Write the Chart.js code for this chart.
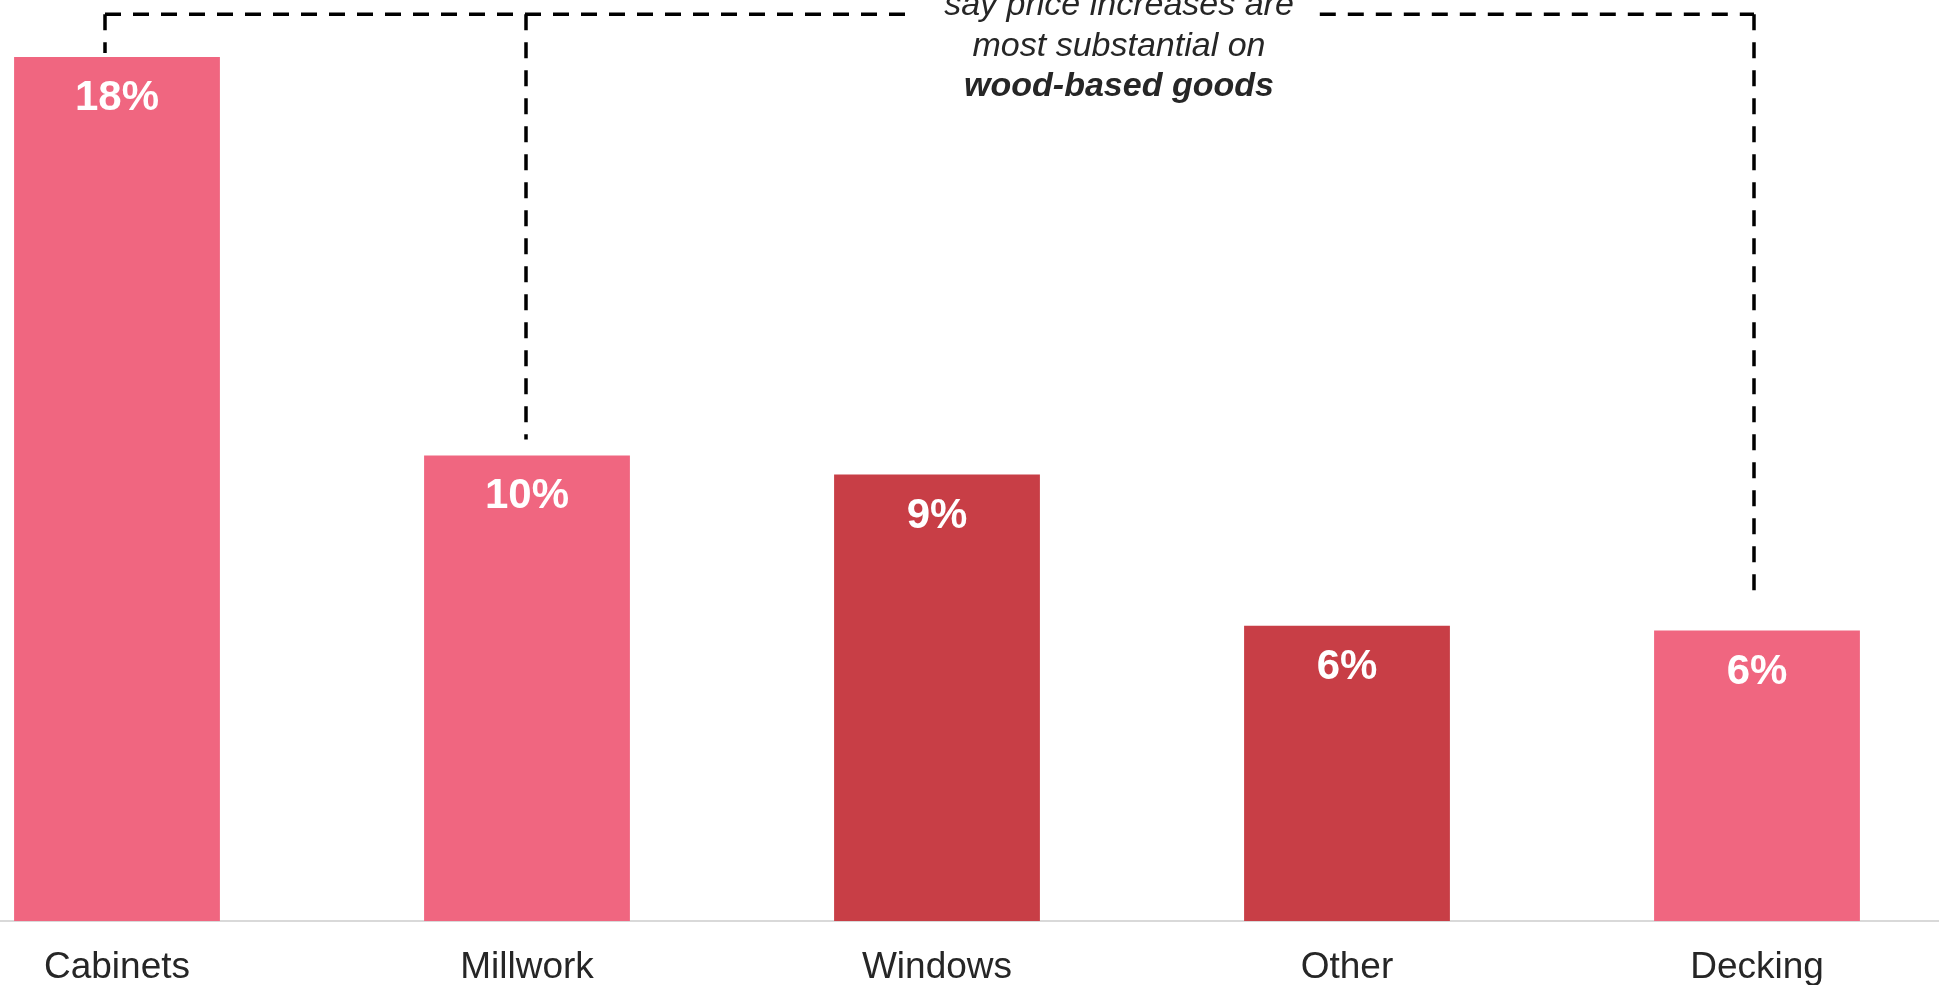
<!DOCTYPE html>
<html>
<head>
<meta charset="utf-8">
<title>Price increases by product</title>
<script src="https://cdn.jsdelivr.net/npm/chart.js@4/dist/chart.umd.min.js"></script>
<style>
  html, body { margin: 0; padding: 0; background: #fff; overflow: hidden; }
  body { width: 1939px; height: 985px; position: relative; }
  #wrap { position: absolute; left: -88px; top: 0; width: 2050px; height: 985px; }
</style>
</head>
<body>
<div id="wrap"><canvas id="chart"></canvas></div>
<script>
const categories = ["Cabinets", "Millwork", "Windows", "Other", "Decking"];
const shares = [18, 9.7, 9.3, 6.15, 6.05];
const noteLines = ["say price increases are", "most substantial on", "wood-based goods"];

const PINK = "#f06680";
const RED = "#c83e46";
const FONT = "'Liberation Sans', Arial, sans-serif";

// white % labels inside the top of each bar
const valueLabels = {
  id: "valueLabels",
  afterDatasetsDraw(chart) {
    const ctx = chart.ctx;
    const meta = chart.getDatasetMeta(0);
    ctx.save();
    ctx.fillStyle = "#ffffff";
    ctx.font = "bold 42px " + FONT;
    ctx.textAlign = "center";
    ctx.textBaseline = "alphabetic";
    meta.data.forEach((bar, i) => {
      ctx.fillText(Math.round(shares[i]) + "%", bar.x, bar.y + 53);
    });
    ctx.restore();
  }
};

// dashed bracket joining the wood-based products, with the note on top
const woodBracket = {
  id: "woodBracket",
  afterDraw(chart) {
    const ctx = chart.ctx;
    const bars = chart.getDatasetMeta(0).data;
    const lineY = 14.3;
    const legs = [
      { bar: bars[0], dx: -12, gap: 4 },
      { bar: bars[1], dx: -1, gap: 16 },
      { bar: bars[4], dx: -3, gap: 37 }
    ];
    const noteX = 1207;
    const legX = (l) => Math.round(l.bar.x + l.dx);

    ctx.save();
    ctx.font = "italic 34px " + FONT;
    const half = ctx.measureText(noteLines[0]).width / 2;

    ctx.strokeStyle = "#000";
    ctx.lineWidth = 3.5;
    ctx.lineCap = "butt";
    ctx.setLineDash([16, 12]);

    const x0 = legX(legs[0]);
    const x2 = legX(legs[2]);
    ctx.beginPath();
    ctx.moveTo(x0, lineY);
    ctx.lineTo(noteX - half - 32, lineY);
    ctx.stroke();
    ctx.beginPath();
    ctx.moveTo(noteX + half + 26, lineY);
    ctx.lineTo(x2, lineY);
    ctx.stroke();

    legs.forEach(l => {
      const x = legX(l);
      ctx.beginPath();
      ctx.moveTo(x, lineY);
      ctx.lineTo(x, l.bar.y - l.gap);
      ctx.stroke();
    });

    ctx.setLineDash([]);
    ctx.fillStyle = "#262626";
    ctx.textAlign = "center";
    ctx.textBaseline = "alphabetic";
    ctx.font = "italic 34px " + FONT;
    ctx.fillText(noteLines[0], noteX, 15);
    ctx.fillText(noteLines[1], noteX, 56);
    ctx.font = "italic bold 34px " + FONT;
    ctx.fillText(noteLines[2], noteX, 96);
    ctx.restore();
  }
};

new Chart(document.getElementById("chart"), {
  type: "bar",
  data: {
    labels: categories,
    datasets: [{
      data: shares,
      backgroundColor: [PINK, PINK, RED, RED, PINK],
      borderWidth: 0,
      categoryPercentage: 1,
      barPercentage: 0.502
    }]
  },
  options: {
    responsive: true,
    maintainAspectRatio: false,
    animation: false,
    layout: { padding: 0 },
    plugins: {
      legend: { display: false },
      tooltip: { enabled: false }
    },
    scales: {
      x: {
        grid: { display: false },
        border: { display: true, color: "#d9d9d9", width: 2 },
        ticks: {
          color: "#262626",
          padding: 17,
          font: { family: FONT, size: 37 }
        },
        afterFit: (scale) => { scale.height = 64; }
      },
      y: {
        display: false,
        min: 0,
        max: 19.1875
      }
    }
  },
  plugins: [valueLabels, woodBracket]
});
</script>
</body>
</html>
